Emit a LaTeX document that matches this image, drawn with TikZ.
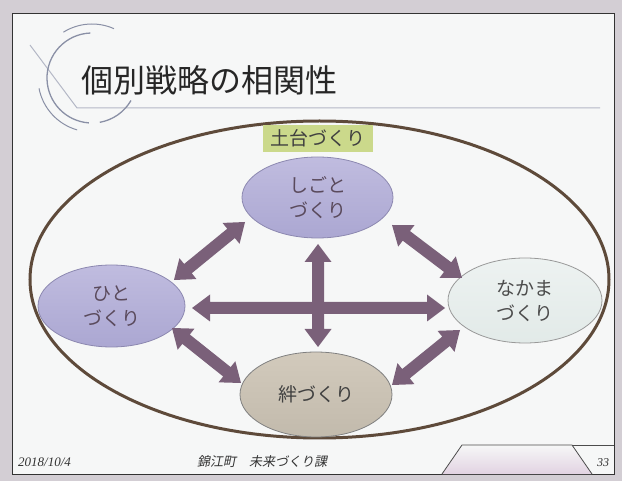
\documentclass[tikz,border=0pt]{standalone}
\usepackage{fontspec}
\usetikzlibrary{shapes.geometric,calc}
\newfontfamily\jp{Noto Sans CJK JP}
\newfontfamily\jpsl[FakeSlant=0.2]{Noto Sans CJK JP}
\newfontfamily\tms{Liberation Serif}
\definecolor{outbg}{HTML}{D3CED4}
\definecolor{slidebg}{HTML}{F6F7F7}
\definecolor{arrowcol}{HTML}{7A6079}
\definecolor{decocol}{HTML}{8A90A6}
\definecolor{linecol}{HTML}{B4B8C6}
\definecolor{basecol}{HTML}{5E4A3A}
\definecolor{labelbg}{HTML}{CBD98B}
\definecolor{lavtop}{HTML}{C0BCDF}
\definecolor{lavbot}{HTML}{ABA7D2}
\definecolor{lavline}{HTML}{8C88B0}
\definecolor{naktop}{HTML}{EDF2F1}
\definecolor{nakbot}{HTML}{E2EAE8}
\definecolor{kiztop}{HTML}{D2CABC}
\definecolor{kizbot}{HTML}{C2BAAC}
\definecolor{txtpur}{HTML}{5A4A5C}
\definecolor{trapbot}{HTML}{E2D3E2}
\newcommand\dblarrow[2]{%
  \fill[arrowcol] (#1)
    -- ($(#1)!18pt!(#2)!13.5pt!90:(#2)$)
    -- ($(#1)!18pt!(#2)!6pt!90:(#2)$)
    -- ($(#2)!18pt!(#1)!6pt!-90:(#1)$)
    -- ($(#2)!18pt!(#1)!13.5pt!-90:(#1)$)
    -- (#2)
    -- ($(#2)!18pt!(#1)!13.5pt!90:(#1)$)
    -- ($(#2)!18pt!(#1)!6pt!90:(#1)$)
    -- ($(#1)!18pt!(#2)!6pt!-90:(#2)$)
    -- ($(#1)!18pt!(#2)!13.5pt!-90:(#2)$)
    -- cycle;}
\tikzset{
  x=1pt, y=1pt,
  idea/.style={ellipse, inner sep=0pt, align=center,
    font=\jp\fontsize{19}{25}\selectfont, line width=0.8pt},
  lav/.style={idea, draw=lavline, top color=lavtop, bottom color=lavbot, text=txtpur},
  deco/.style={draw=decocol, line width=1.3pt},
}
\begin{document}
\begin{tikzpicture}
\useasboundingbox (0,0) rectangle (622,-481);
% backgrounds
\fill[outbg] (0,0) rectangle (622,-481);
\filldraw[fill=slidebg, draw=black!80, line width=1pt] (12,-14) rectangle (614,-474);
% decoration
\draw[linecol, line width=1pt] (30,-45) -- (77,-108) -- (600,-108);
\coordinate (dc) at (92,-78);
\draw[deco] (dc) ++(92:45) arc[start angle=92, end angle=266, radius=45];
\draw[deco] (dc) ++(280:45) arc[start angle=280, end angle=330, radius=45];
\draw[deco, line width=1pt] (dc) ++(66:54) arc[start angle=66, end angle=122, radius=54];
\draw[deco, line width=1pt] (dc) ++(191:54) arc[start angle=191, end angle=254, radius=54];
% title
\node[anchor=west, font=\jp\fontsize{32}{32}\selectfont, text=black!85, inner sep=0pt]
  (title) at (81,-80) {個別戦略の相関性};
% base ellipse
\node[ellipse, draw=basecol, line width=3pt, minimum width=579, minimum height=317, inner sep=0pt]
  (base) at (319.5,-279.5) {};
\node[fill=labelbg, minimum width=110, minimum height=27, inner sep=0pt,
  font=\jp\fontsize{19}{19}\selectfont, text=black!75] (label) at (318,-138.5) {土台づくり};
% idea ellipses
\node[lav, minimum width=151, minimum height=81] (shigoto) at (317.5,-197.5) {しごと\\づくり};
\node[lav, minimum width=147, minimum height=82] (hito) at (111.5,-306) {ひと\\づくり};
\node[idea, draw=black!40, top color=naktop, bottom color=nakbot, text=black!70,
  minimum width=154, minimum height=85] (nakama) at (525,-300.5) {なかま\\づくり};
\node[idea, draw=black!50, top color=kiztop, bottom color=kizbot, text=black!75,
  minimum width=152, minimum height=85] (kizuna) at (316,-394.5) {絆づくり};
% arrow ends
\coordinate (hs1) at (174,-280); \coordinate (hs2) at (245,-222);
\coordinate (sn1) at (392,-225); \coordinate (sn2) at (462,-278);
\coordinate (hk1) at (172,-328); \coordinate (hk2) at (241,-383);
\coordinate (kn1) at (392,-385); \coordinate (kn2) at (460,-330);
\coordinate (hn1) at (192,-308); \coordinate (hn2) at (445,-308);
\coordinate (sk1) at (318,-244); \coordinate (sk2) at (318,-347);
\dblarrow{hn1}{hn2}
\dblarrow{sk1}{sk2}
\dblarrow{hs1}{hs2}
\dblarrow{sn1}{sn2}
\dblarrow{hk1}{hk2}
\dblarrow{kn1}{kn2}
% footer
\draw[top color=slidebg, bottom color=trapbot, draw=black!70, line width=0.8pt]
  (442,-474) -- (462,-445) -- (572,-445) -- (592,-474);
\draw[black!70, line width=0.8pt] (572,-445) -- (614,-445);
\node[anchor=west, font=\tms\itshape\fontsize{13}{13}\selectfont, text=black!80, inner sep=0pt]
  (date) at (18,-462) {2018/10/4};
\node[font=\jpsl\fontsize{13}{13}\selectfont, text=black!80, inner sep=0pt]
  (org) at (262,-462) {錦江町　未来づくり課};
\node[font=\tms\itshape\fontsize{12}{12}\selectfont, text=black!80, inner sep=0pt]
  (page) at (603,-463) {33};
\end{tikzpicture}
\end{document}
